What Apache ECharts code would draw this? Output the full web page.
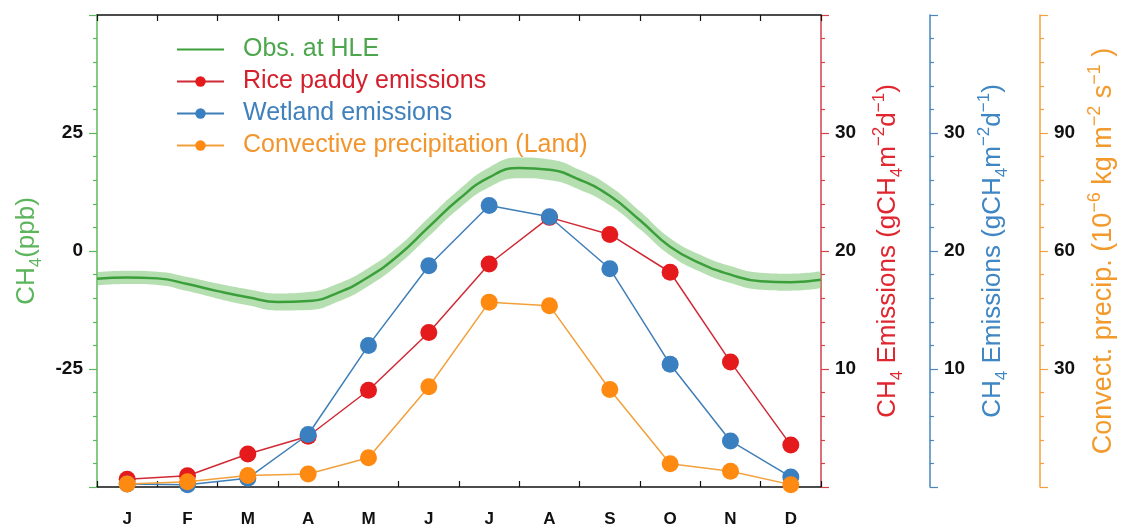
<!DOCTYPE html>
<html>
<head>
<meta charset="utf-8">
<title>CH4 seasonal cycle</title>
<script src="https://cdn.jsdelivr.net/npm/echarts@6/dist/echarts.min.js"></script>
<style>
  html, body { margin: 0; padding: 0; background: #fff; }
  #chart { width: 1125px; height: 531px; }
</style>
</head>
<body>
<div id="chart"></div>
<script>
// Month labels along the bottom axis
const months = ['J', 'F', 'M', 'A', 'M', 'J', 'J', 'A', 'S', 'O', 'N', 'D'];

// Monthly emissions (gCH4 m-2 d-1)
const riceEmission = [0.65, 0.95, 2.8, 4.3, 8.2, 13.1, 18.9, 22.85, 21.4, 18.2, 10.6, 3.55];
const wetlandEmission = [0.25, 0.2, 0.75, 4.45, 12.0, 18.75, 23.85, 22.9, 18.5, 10.4, 3.9, 0.85];

// Monthly convective precipitation over land (1e-6 kg m-2 s-1)
const convPrecip = [0.75, 1.35, 2.9, 3.3, 7.45, 25.5, 47.0, 46.1, 24.8, 5.9, 4.0, 0.6];

// Observed CH4 seasonal anomaly at HLE (ppb), sampled every half month (time in months)
const obsTime = ['0', '0.5', '1', '1.5', '2', '2.5', '3', '3.5', '4', '4.5', '5', '5.5', '6',
  '6.5', '7', '7.5', '8', '8.5', '9', '9.5', '10', '10.5', '11', '11.5', '12'];
const obsCH4 = [-5.9, -5.6, -5.8, -7.0, -8.5, -9.8, -10.8, -10.6, -8.8, -5.5, -0.9, 5.1, 11.0,
  15.6, 17.6, 17.2, 15.1, 11.7, 6.5, 0.9, -2.6, -5.0, -6.4, -6.6, -6.1];
const obsSpread = [1.4, 1.4, 1.4, 1.5, 1.6, 1.7, 1.8, 1.9, 1.9, 1.9, 1.9, 2.0, 2.0,
  2.1, 2.2, 2.2, 2.1, 2.0, 1.9, 1.8, 1.8, 1.8, 1.8, 1.8, 1.8];

// Axis ranges and major steps
const ch4Ticks = { min: -50, max: 50, step: 25 };
const emisTicks = { min: 0, max: 40, step: 10 };
const precipTicks = { min: 0, max: 120, step: 30 };

const FONT = 'Liberation Sans, Arial, sans-serif';
const C = {
  green: '#3b9f3b', greenAxis: '#5cb85c', greenBand: 'rgba(130,200,120,0.58)',
  red: '#e41a1c', redLine: '#d02a36', redAxis: '#d2404a',
  blue: '#3a7fc0', blueLine: '#3f7fb8', blueAxis: '#4a86bd',
  orange: '#ff8a12', orangeLine: '#f2a03c', orangeAxis: '#f4a040'
};

function richName(color, size, small) {
  return {
    a: { fontSize: size, color: color, fontFamily: FONT, lineHeight: size + 4 },
    s: { fontSize: small, color: color, fontFamily: FONT, lineHeight: small - 1, verticalAlign: 'bottom', padding: [0, 0, -3, 0] },
    p: { fontSize: small, color: color, fontFamily: FONT, lineHeight: small - 1, verticalAlign: 'top', padding: [-2, 0, 0, 0] }
  };
}

const labelStyle = { fontSize: 19, fontWeight: 'bold', color: '#111', fontFamily: FONT };

function rightAxis(t, color, offset, name, gap, rich) {
  return {
    type: 'value', position: 'right', offset: offset,
    min: t.min, max: t.max, interval: t.step,
    axisLine: { show: true, onZero: false, lineStyle: { color: color, width: 1.5 } },
    axisTick: { show: true, inside: false, length: 8, lineStyle: { color: color, width: 1.2 } },
    minorTick: { show: true, splitNumber: 5, length: 4, lineStyle: { color: color, width: 1.2 } },
    splitLine: { show: false }, minorSplitLine: { show: false },
    axisLabel: Object.assign({ margin: 14, showMinLabel: false, showMaxLabel: false }, labelStyle),
    name: name, nameLocation: 'middle', nameRotate: 90, nameGap: gap,
    nameTextStyle: { rich: rich }
  };
}

const obsLower = obsCH4.map((v, i) => v - obsSpread[i]);
const obsWidth = obsSpread.map(s => 2 * s);

const chart = echarts.init(document.getElementById('chart'), null, { renderer: 'canvas' });

chart.setOption({
  animation: false,
  backgroundColor: '#fff',
  grid: { left: 97, right: 301, top: 15, bottom: 44, containLabel: false },
  legend: {
    orient: 'vertical', left: 171, top: 32,
    itemWidth: 47, itemHeight: 13, itemGap: 7,
    textStyle: { fontSize: 25, fontFamily: FONT, padding: [0, 0, 0, 14] },
    data: [
      { name: 'Obs. at HLE', textStyle: { color: '#4ca64c' }, itemStyle: { opacity: 0 } },
      { name: 'Rice paddy emissions', textStyle: { color: '#d4202c' } },
      { name: 'Wetland emissions', textStyle: { color: '#3f80bd' } },
      { name: 'Convective precipitation (Land)', textStyle: { color: '#f2952c' } }
    ]
  },
  xAxis: [
    {
      type: 'category', data: months, position: 'bottom', boundaryGap: true,
      axisLine: { show: true, onZero: false, lineStyle: { color: '#111', width: 1.5 } },
      axisTick: { show: true, inside: true, length: 6, lineStyle: { color: '#111', width: 1.2 } },
      axisLabel: Object.assign({ margin: 24, interval: 0 }, labelStyle, { fontSize: 17 }),
      splitLine: { show: false }
    },
    {
      type: 'category', data: obsTime, position: 'top', boundaryGap: false,
      axisLine: { show: true, onZero: false, lineStyle: { color: '#111', width: 1.5 } },
      axisTick: { show: true, inside: true, length: 6, interval: 1, lineStyle: { color: '#111', width: 1.2 } },
      axisLabel: { show: false },
      splitLine: { show: false }
    }
  ],
  yAxis: [
    {
      type: 'value', position: 'left',
      min: ch4Ticks.min, max: ch4Ticks.max, interval: ch4Ticks.step,
      axisLine: { show: true, onZero: false, lineStyle: { color: C.greenAxis, width: 1.5 } },
      axisTick: { show: true, inside: false, length: 8, lineStyle: { color: C.greenAxis, width: 1.2 } },
      minorTick: { show: true, splitNumber: 5, length: 4, lineStyle: { color: C.greenAxis, width: 1.2 } },
      splitLine: { show: false }, minorSplitLine: { show: false },
      axisLabel: Object.assign({ margin: 14, showMinLabel: false, showMaxLabel: false }, labelStyle),
      name: '{a|CH}{s|4}{a|(ppb)}', nameLocation: 'middle', nameRotate: 90, nameGap: 54,
      nameTextStyle: { rich: richName('#5cb45c', 26, 17) }
    },
    rightAxis(emisTicks, C.redAxis, 0,
      '{a|CH}{s|4}{a| Emissions (gCH}{s|4}{a|m}{p|\u22122}{a|d}{p|\u22121}{a|)}', 52, richName('#e0262e', 26, 17)),
    rightAxis(emisTicks, C.blueAxis, 109,
      '{a|CH}{s|4}{a| Emissions (gCH}{s|4}{a|m}{p|\u22122}{a|d}{p|\u22121}{a|)}', 48, richName('#3f86c4', 26, 17)),
    rightAxis(precipTicks, C.orangeAxis, 219,
      '{a|Convect. precip. (10}{p|\u22126}{a| kg m}{p|\u22122}{a| s}{p|\u22121}{a| )}', 42, richName('#f39a2c', 27, 18))
  ],
  series: [
    {
      name: 'obsLow', type: 'line', xAxisIndex: 1, yAxisIndex: 0,
      stack: 'band', stackStrategy: 'all',
      data: obsLower, smooth: true, symbol: 'none', silent: true,
      lineStyle: { opacity: 0 }, z: 1
    },
    {
      name: 'obsBand', type: 'line', xAxisIndex: 1, yAxisIndex: 0,
      stack: 'band', stackStrategy: 'all',
      data: obsWidth, smooth: true, symbol: 'none', silent: true,
      lineStyle: { opacity: 0 }, areaStyle: { color: C.greenBand, opacity: 1 }, z: 1
    },
    {
      name: 'Obs. at HLE', type: 'line', xAxisIndex: 1, yAxisIndex: 0,
      data: obsCH4, smooth: true, symbol: 'none',
      lineStyle: { color: C.green, width: 2.5 }, itemStyle: { color: C.green }, z: 2
    },
    {
      name: 'Rice paddy emissions', type: 'line', xAxisIndex: 0, yAxisIndex: 1,
      data: riceEmission, symbol: 'circle', symbolSize: 17,
      lineStyle: { color: C.redLine, width: 1.5 }, itemStyle: { color: C.red }, z: 3
    },
    {
      name: 'Wetland emissions', type: 'line', xAxisIndex: 0, yAxisIndex: 2,
      data: wetlandEmission, symbol: 'circle', symbolSize: 17,
      lineStyle: { color: C.blueLine, width: 1.5 }, itemStyle: { color: C.blue }, z: 4
    },
    {
      name: 'Convective precipitation (Land)', type: 'line', xAxisIndex: 0, yAxisIndex: 3,
      data: convPrecip, symbol: 'circle', symbolSize: 17,
      lineStyle: { color: C.orangeLine, width: 1.5 }, itemStyle: { color: C.orange }, z: 5
    }
  ]
});
</script>
</body>
</html>
